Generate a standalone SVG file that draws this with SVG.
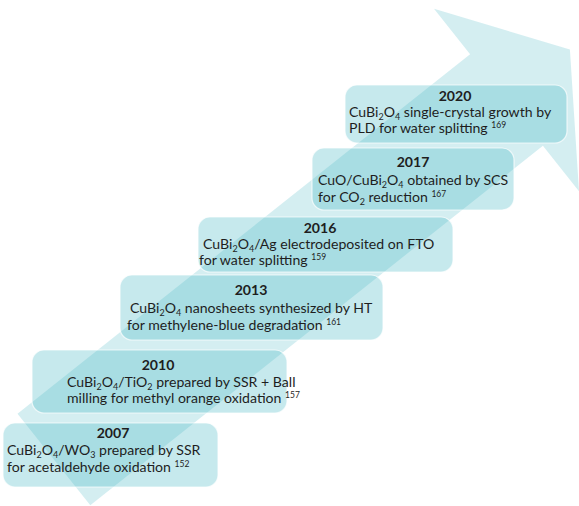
<svg xmlns="http://www.w3.org/2000/svg" width="579" height="506" viewBox="0 0 579 506">
<style>
  .arrow { fill: #43b5c2; fill-opacity: 0.23; }
  .box { fill: #43b5c2; fill-opacity: 0.30; stroke: #ffffff; stroke-opacity: 0.7; stroke-width: 1.2; }
  text { font-family: "Lato", "Liberation Sans", sans-serif; font-size: 14.1px; fill: #1e1e1e; }
  .year { font-weight: bold; text-anchor: middle; }
  .sub { font-size: 9px; baseline-shift: -2.5px; }
  .sup { font-size: 8.5px; baseline-shift: 5px; }
</style>
<rect width="579" height="506" fill="#ffffff"/>
<g id="timeline-arrow">
  <polygon class="arrow" points="17.5,413.7 470.1,54.2 434,8.8 569.9,49.6 579,191.2 542.9,145.8 90.3,505.3"/>
</g>
<g id="node-2007">
  <rect class="box" x="3" y="423" width="215" height="64" rx="12"/>
  <text class="year" x="113" y="438">2007</text>
  <text x="7" y="455">CuBi<tspan class="sub">2</tspan>O<tspan class="sub">4</tspan>/WO<tspan class="sub">3</tspan> prepared by SSR</text>
  <text x="7" y="472">for acetaldehyde oxidation <tspan class="sup">152</tspan></text>
</g>
<g id="node-2010">
  <rect class="box" x="32" y="350" width="255" height="63" rx="12"/>
  <text class="year" x="158" y="370">2010</text>
  <text x="67" y="387">CuBi<tspan class="sub">2</tspan>O<tspan class="sub">4</tspan>/TiO<tspan class="sub">2</tspan>  prepared by SSR + Ball</text>
  <text x="67" y="403">milling for methyl orange oxidation <tspan class="sup">157</tspan></text>
</g>
<g id="node-2013">
  <rect class="box" x="120" y="275" width="263" height="65" rx="12"/>
  <text class="year" x="251" y="295">2013</text>
  <text x="130" y="313">CuBi<tspan class="sub">2</tspan>O<tspan class="sub">4</tspan> nanosheets synthesized by HT</text>
  <text x="127" y="330">for methylene-blue degradation <tspan class="sup">161</tspan></text>
</g>
<g id="node-2016">
  <rect class="box" x="198" y="217" width="255" height="55" rx="12"/>
  <text class="year" x="320" y="233">2016</text>
  <text x="203" y="249">CuBi<tspan class="sub">2</tspan>O<tspan class="sub">4</tspan>/Ag electrodeposited on FTO</text>
  <text x="199" y="265">for water splitting  <tspan class="sup">159</tspan></text>
</g>
<g id="node-2017">
  <rect class="box" x="312" y="148" width="202" height="62" rx="12"/>
  <text class="year" x="413" y="167">2017</text>
  <text x="318" y="185">CuO/CuBi<tspan class="sub">2</tspan>O<tspan class="sub">4</tspan> obtained by SCS</text>
  <text x="318" y="202">for CO<tspan class="sub">2</tspan> reduction <tspan class="sup">167</tspan></text>
</g>
<g id="node-2020">
  <rect class="box" x="345" y="85" width="222" height="58" rx="12"/>
  <text class="year" x="455" y="101">2020</text>
  <text x="349" y="117">CuBi<tspan class="sub">2</tspan>O<tspan class="sub">4</tspan> single-crystal growth by</text>
  <text x="349" y="133">PLD for water splitting <tspan class="sup">169</tspan></text>
</g>
</svg>
